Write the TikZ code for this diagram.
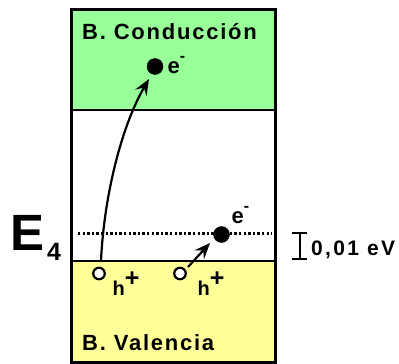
\documentclass[tikz,border=0pt]{standalone}
\usepackage{fontspec}
\setmainfont{Liberation Sans}
\newfontfamily\bandfont[LetterSpace=8]{Liberation Sans}
\newfontfamily\widefont[LetterSpace=11]{Liberation Sans}
\usetikzlibrary{arrows.meta}
\definecolor{condgreen}{RGB}{153,255,153}
\definecolor{valyellow}{RGB}{255,255,153}
\begin{document}
\begin{tikzpicture}[x=1pt,y=-1pt,
  bandlabel/.style={anchor=base west,inner sep=0pt,font=\bandfont\bfseries\fontsize{22}{26}\selectfont},
  plainlabel/.style={anchor=base west,inner sep=0pt,font=\bfseries},
  electron/.style={circle,fill=black,draw=black,minimum size=16pt,inner sep=0pt},
  hole/.style={circle,fill=white,draw=black,line width=2.2pt,minimum size=11.5pt,inner sep=0pt},
  jump/.style={line width=2.2pt,-{Stealth[length=16pt,width=13pt,inset=6pt]}},
  frame/.style={line width=3pt}]
\useasboundingbox (0,0) rectangle (399,364);
% bands
\fill[condgreen] (71,9) rectangle (275,110);
\fill[valyellow] (71,261) rectangle (275,362);
\draw[frame] (71,9) rectangle (275,362);
\draw[line width=2.5pt] (71,110) -- (275,110);
\draw[line width=2.5pt] (71,261) -- (275,261);
% E4 level
\coordinate (lvlL) at (78,233.3);
\coordinate (lvlR) at (272,233.3);
\draw[line width=2.4pt,dash pattern=on 2.4pt off 2.2pt] (lvlL) -- (lvlR);
% labels
\node[bandlabel] (cond) at (82,39) {B. Conducción};
\node[bandlabel] (val) at (82,350) {B. Valencia};
\node[plainlabel,font=\bfseries\fontsize{51}{51}\selectfont] (E4) at (10,250)
  {E\hspace{3pt}\raisebox{-10pt}{\fontsize{25}{25}\selectfont 4}};
% particles
\node[electron] (e1) at (155,66.5) {};
\node[electron] (e2) at (221.5,234.5) {};
\node[hole] (h1) at (99,273.5) {};
\node[hole] (h2) at (180,273.5) {};
\node[plainlabel,font=\bfseries\fontsize{22}{22}\selectfont] (e1lbl) at (167.5,73)
  {e\raisebox{12pt}{\fontsize{16}{16}\selectfont -}};
\node[plainlabel,font=\bfseries\fontsize{22}{22}\selectfont] (e2lbl) at (231.5,223)
  {e\raisebox{12pt}{\fontsize{16}{16}\selectfont -}};
\node[plainlabel,font=\bfseries\fontsize{20}{20}\selectfont] (h1lbl) at (112.5,295.5)
  {h\raisebox{9.5pt}{\fontsize{25}{25}\selectfont +}};
\node[plainlabel,font=\bfseries\fontsize{20}{20}\selectfont] (h2lbl) at (197.5,295.5)
  {h\raisebox{9.5pt}{\fontsize{25}{25}\selectfont +}};
% transitions
\coordinate (s1) at (101,261);
\coordinate (t1) at (149,79);
\draw[jump] (s1) .. controls (104,195) and (122,125) .. (t1);
\coordinate (s2) at (188,267);
\coordinate (t2) at (210,243);
\draw[jump] (s2) -- (t2);
% energy scale
\coordinate (barT) at (299.5,232.5);
\coordinate (barB) at (299.5,258.5);
\draw[line width=2pt] (barT) -- (barB);
\draw[line width=2pt] ([xshift=-7.5pt]barT) -- ([xshift=7.5pt]barT);
\draw[line width=2pt] ([xshift=-7.5pt]barB) -- ([xshift=7.5pt]barB);
\node[plainlabel,font=\widefont\bfseries\fontsize{21}{21}\selectfont] (ev) at (311,255) {0,01 eV};
\end{tikzpicture}
\end{document}
